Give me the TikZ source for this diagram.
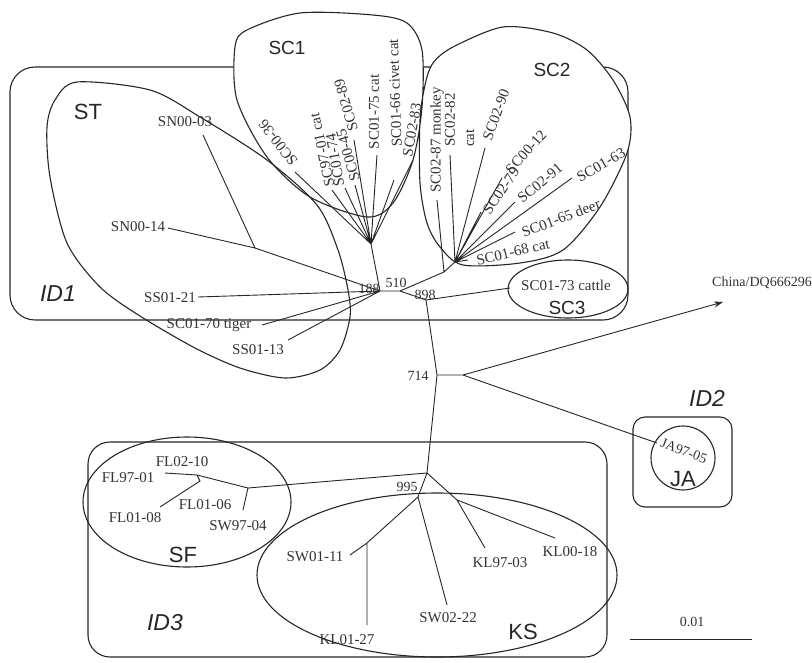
\documentclass[tikz,border=0pt]{standalone}
\usepackage{fontspec}
\setmainfont{Liberation Serif}
\setsansfont{Liberation Sans}
\usetikzlibrary{arrows.meta}

\begin{document}
\begin{tikzpicture}[x=1pt, y=-1pt, >={Stealth[length=9pt, width=6pt]},
    branch/.style={line width=0.9pt, draw=black!85},
    frame/.style={line width=1.1pt, draw=black!85},
    leaf/.style={font=\fontsize{15}{15}\selectfont, inner sep=0pt, text=black!80},
    boot/.style={font=\fontsize{14}{14}\selectfont, inner sep=0pt, text=black!80},
    clade/.style={font=\sffamily\fontsize{19}{19}\selectfont, inner sep=0pt, text=black!85},
    bigclade/.style={font=\sffamily\fontsize{22}{22}\selectfont, inner sep=0pt, text=black!85},
    group/.style={font=\sffamily\itshape\fontsize{23}{23}\selectfont, inner sep=0pt, text=black!85}]
    \useasboundingbox (0,0) rectangle (812,662);

    % Groups ID1, ID2, ID3
    \draw[frame, rounded corners=25pt] (10,67) rectangle (628,320);
    \draw[frame, rounded corners=22pt] (88,442) rectangle (607,657);
    \draw[frame, rounded corners=12pt] (633,417) rectangle (732,507);

    % Clusters SC1, SC2
    \draw[frame, fill=white] plot[smooth cycle] coordinates {(300,13) (373,15) (407,23) (422,50) (422,107) (413,160) (393,203) (367,217) (310,197) (267,157) (237,100) (235,47) (247,30)}
        plot[smooth cycle] coordinates {(503,27) (553,33) (587,50) (613,80) (630,117) (627,153) (600,207) (563,250) (520,263) (463,265) (440,247) (427,223) (420,183) (420,120) (425,85) (433,63) (453,47)};
    % Cluster ST
    \draw[frame] plot[smooth cycle] coordinates {(77,82) (150,90) (200,117) (267,160) (317,205) (338,250) (348,290) (350,317) (340,350) (320,370) (285,378) (240,368) (195,348) (140,316) (100,287) (67,243) (50,177) (47,127) (55,100)};
    % Clusters SC3, SF, KS, JA
    \draw[frame] (568,289) ellipse [x radius=60, y radius=29];
    \draw[frame] (187,502) ellipse [x radius=104, y radius=65];
    \draw[frame] (437,575) ellipse [x radius=180, y radius=82];
    \draw[frame] (683,458) circle [radius=32];

    % Inner nodes
    \coordinate (nsn) at (255,248);
    \coordinate (n188) at (380,291);
    \coordinate (n510) at (400,291);
    \coordinate (n898) at (426,300);
    \coordinate (n714) at (437,375);
    \coordinate (nchn) at (463,375);
    \coordinate (n995) at (427,473);
    \coordinate (nsc1) at (371,244);
    \coordinate (nsc2a) at (444,272);
    \coordinate (nsc2) at (455,262);
    \coordinate (nsf) at (248,488);
    \coordinate (nfl) at (197,475);
    \coordinate (nfl2) at (200,481);
    \coordinate (nsw) at (418,497);
    \coordinate (nkl27) at (367,543);
    \coordinate (nkl) at (457,500);

    % Tips
    \coordinate (t-sn0003) at (203,135);
    \coordinate (t-sn0014) at (168,228);
    \coordinate (t-ss0121) at (198,297);
    \coordinate (t-sc0170) at (262,325);
    \coordinate (t-ss0113) at (288,340);
    \coordinate (t-sc0036) at (295,172);
    \coordinate (t-sc9701) at (332,190);
    \coordinate (t-sc0174) at (345,188);
    \coordinate (t-sc0045) at (355,185);
    \coordinate (t-sc0289) at (354,140);
    \coordinate (t-sc0175) at (377,155);
    \coordinate (t-sc0166) at (394,180);
    \coordinate (t-sc0283) at (413,160);
    \coordinate (t-sc0287) at (437,200);
    \coordinate (t-sc0282) at (450,155);
    \coordinate (t-sc0290) at (485,148);
    \coordinate (t-sc0012) at (502,178);
    \coordinate (t-sc0279) at (481,212);
    \coordinate (t-sc0291) at (515,202);
    \coordinate (t-sc0163) at (572,178);
    \coordinate (t-sc0165) at (515,232);
    \coordinate (t-sc0168) at (468,260);
    \coordinate (t-sc0173) at (510,288);
    \coordinate (t-china) at (723,302);
    \coordinate (t-ja9705) at (657,443);
    \coordinate (t-fl9701) at (165,473);
    \coordinate (t-fl0108) at (160,507);
    \coordinate (t-sw9704) at (243,510);
    \coordinate (t-sw0111) at (350,555);
    \coordinate (t-kl0127) at (367,625);
    \coordinate (t-sw0222) at (447,605);
    \coordinate (t-kl9703) at (485,548);
    \coordinate (t-kl0018) at (555,538);

    % Branches
    \draw[branch] (nsn) -- (n188) -- (n510) -- (n898) -- (n714) -- (n995);
    \draw[branch] (t-sn0003) -- (nsn) -- (t-sn0014);
    \draw[branch] (t-ss0121) -- (n188) (t-sc0170) -- (n188) (t-ss0113) -- (n188) (nsc1) -- (n188);
    \draw[branch] (t-sc0036) -- (nsc1) (t-sc9701) -- (nsc1) (t-sc0174) -- (nsc1) (t-sc0045) -- (nsc1)
        (t-sc0289) -- (nsc1) (t-sc0175) -- (nsc1) (t-sc0166) -- (nsc1) (t-sc0283) -- (nsc1);
    \draw[branch] (n510) -- (nsc2a) -- (nsc2) (nsc2a) -- (t-sc0287);
    \draw[branch] (t-sc0282) -- (nsc2) (t-sc0290) -- (nsc2) (t-sc0012) -- (nsc2) (t-sc0279) -- (nsc2)
        (t-sc0291) -- (nsc2) (t-sc0163) -- (nsc2) (t-sc0165) -- (nsc2) (t-sc0168) -- (nsc2);
    \draw[branch] (n898) -- (t-sc0173);
    \draw[branch] (n714) -- (nchn) -- (t-ja9705);
    \draw[branch, ->] (nchn) -- (t-china);
    \draw[branch] (n995) -- (nsf) -- (t-sw9704) (nsf) -- (nfl) -- (t-fl9701) (nfl) -- (nfl2) -- (t-fl0108);
    \draw[branch] (n995) -- (nsw) -- (nkl27) -- (t-sw0111) (nkl27) -- (t-kl0127) (nsw) -- (t-sw0222);
    \draw[branch] (n995) -- (nkl) -- (t-kl9703) (nkl) -- (t-kl0018);

    % Bootstrap values
    \node[boot] (b188) at (369,289) {188};
    \node[boot] (b510) at (396,283) {510};
    \node[boot] (b898) at (425,295) {898};
    \node[boot] (b714) at (418,376) {714};
    \node[boot] (b995) at (407,487) {995};

    % Leaf labels ST
    \node[leaf] (sn0003) at (185,122) {SN00-03};
    \node[leaf] (sn0014) at (138,227) {SN00-14};
    \node[leaf] (ss0121) at (170,298) {SS01-21};
    \node[leaf] (sc0170) at (209,325) {SC01-70 tiger};
    \node[leaf] (ss0113) at (258,350) {SS01-13};

    % Leaf labels SC1
    \node[leaf, rotate=128] (sc0036) at (278,143) {SC00-36};
    \node[leaf, rotate=102] (sc9701) at (322,150) {SC97-01 cat};
    \node[leaf, rotate=100] (sc0174) at (335,160) {SC01-74};
    \node[leaf, rotate=106] (sc0045) at (348,155) {SC00-45};
    \node[leaf, rotate=106] (sc0289) at (346,105) {SC02-89};
    \node[leaf, rotate=90] (sc0175) at (374,112) {SC01-75 cat};
    \node[leaf, rotate=92] (sc0166) at (395,93) {SC01-66 civet cat};
    \node[leaf, rotate=80] (sc0283) at (412,130) {SC02-83};

    % Leaf labels SC2
    \node[leaf, rotate=90] (sc0287) at (437,140) {SC02-87 monkey};
    \node[leaf, rotate=90] (sc0282) at (450,120) {SC02-82};
    \node[leaf, rotate=90] (cat) at (470,138) {cat};
    \node[leaf, rotate=70] (sc0290) at (496,115) {SC02-90};
    \node[leaf, rotate=48] (sc0012) at (526,152) {SC00-12};
    \node[leaf, rotate=56] (sc0279) at (501,191) {SC02-79};
    \node[leaf, rotate=40] (sc0291) at (540,183) {SC02-91};
    \node[leaf, rotate=30] (sc0163) at (601,165) {SC01-63};
    \node[leaf, rotate=21] (sc0165) at (561,218) {SC01-65 deer};
    \node[leaf, rotate=13] (sc0168) at (513,252) {SC01-68 cat};

    % Other leaf labels
    \node[leaf] (sc0173) at (566,285) {SC01-73 cattle};
    \node[boot] (china) at (762,283) {China/DQ666296};
    \node[boot, rotate=-21] (ja9705) at (684,451) {JA97-05};
    \node[leaf] (fl0210) at (182,462) {FL02-10};
    \node[leaf] (fl9701) at (128,478) {FL97-01};
    \node[leaf] (fl0108) at (135,518) {FL01-08};
    \node[leaf] (fl0106) at (205,505) {FL01-06};
    \node[leaf] (sw9704) at (238,526) {SW97-04};
    \node[leaf] (sw0111) at (315,557) {SW01-11};
    \node[leaf] (kl0127) at (347,640) {KL01-27};
    \node[leaf] (sw0222) at (448,618) {SW02-22};
    \node[leaf] (kl9703) at (500,563) {KL97-03};
    \node[leaf] (kl0018) at (570,552) {KL00-18};

    % Cluster and group names
    \node[clade] (lsc1) at (287,48) {SC1};
    \node[clade] (lsc2) at (552,70) {SC2};
    \node[clade] (lsc3) at (567,308) {SC3};
    \node[bigclade] (lst) at (88,112) {ST};
    \node[bigclade] (lsf) at (183,555) {SF};
    \node[bigclade] (lks) at (523,632) {KS};
    \node[bigclade] (lja) at (683,479) {JA};
    \node[group] (lid1) at (58,294) {ID1};
    \node[group] (lid2) at (707,398) {ID2};
    \node[group] (lid3) at (165,623) {ID3};

    % Scale bar
    \coordinate (sb-l) at (630,639);
    \coordinate (sb-r) at (752,639);
    \draw[branch] (sb-l) -- (sb-r);
    \node[boot] (sb) at (692,622) {0.01};
\end{tikzpicture}
\end{document}
